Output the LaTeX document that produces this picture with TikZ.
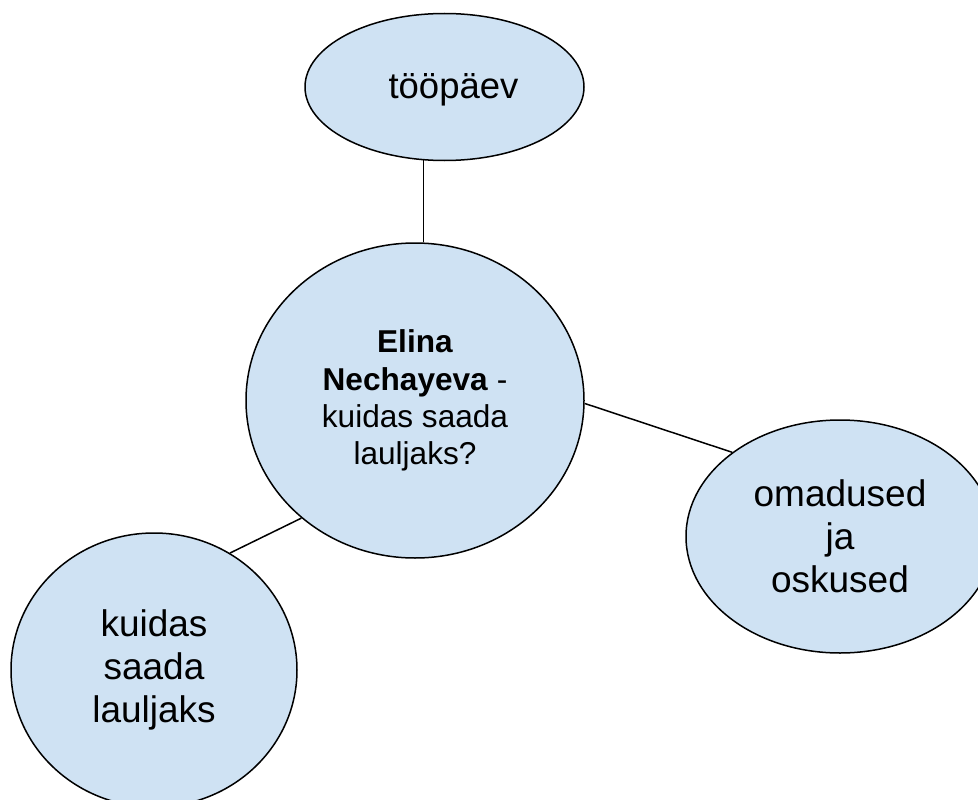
\documentclass[tikz,border=0pt]{standalone}
\usepackage{fontspec}
\setmainfont{Liberation Sans}
\usetikzlibrary{shapes.geometric}
\definecolor{bubble}{HTML}{CFE2F3}
\begin{document}
\begin{tikzpicture}[x=1pt,y=-1pt,
  bub/.style={ellipse, draw=black, line width=1.5pt, fill=bubble, inner sep=0pt, text=black, align=center},
  conn/.style={draw=black, line width=1.5pt},
  bigtext/.style={font=\fontsize{37}{43}\selectfont},
  midtext/.style={font=\fontsize{31.6}{37.3}\selectfont}]
\useasboundingbox (0,0) rectangle (978,800);
\clip (0,0) rectangle (978,800);
% bubbles
\node[bub, minimum width=279pt, minimum height=147pt,
  label={[font=\fontsize{36.5}{42}\selectfont, xshift=9pt, yshift=-3pt]center:tööpäev}] (top) at (444.5,87) {};
\node[bub, midtext, minimum width=338pt, minimum height=315pt] (mid) at (415,400.5)
  {\textbf{Elina}\\\textbf{Nechayeva} -\\kuidas saada\\lauljaks?};
\node[bub, bigtext, minimum width=308pt, minimum height=233pt] (right) at (840,536.5)
  {omadused\\ja\\oskused};
\node[bub, bigtext, minimum width=286pt, minimum height=274pt] (left) at (154,670)
  {kuidas\\saada\\lauljaks};
% connectors
\draw[conn] (top.254.3) -- (top.254.3 |- mid.north);
\draw[conn] (mid.359.2) -- (right.142.9);
\draw[conn] (mid.226.4) -- (left.57.2);
\end{tikzpicture}
\end{document}
